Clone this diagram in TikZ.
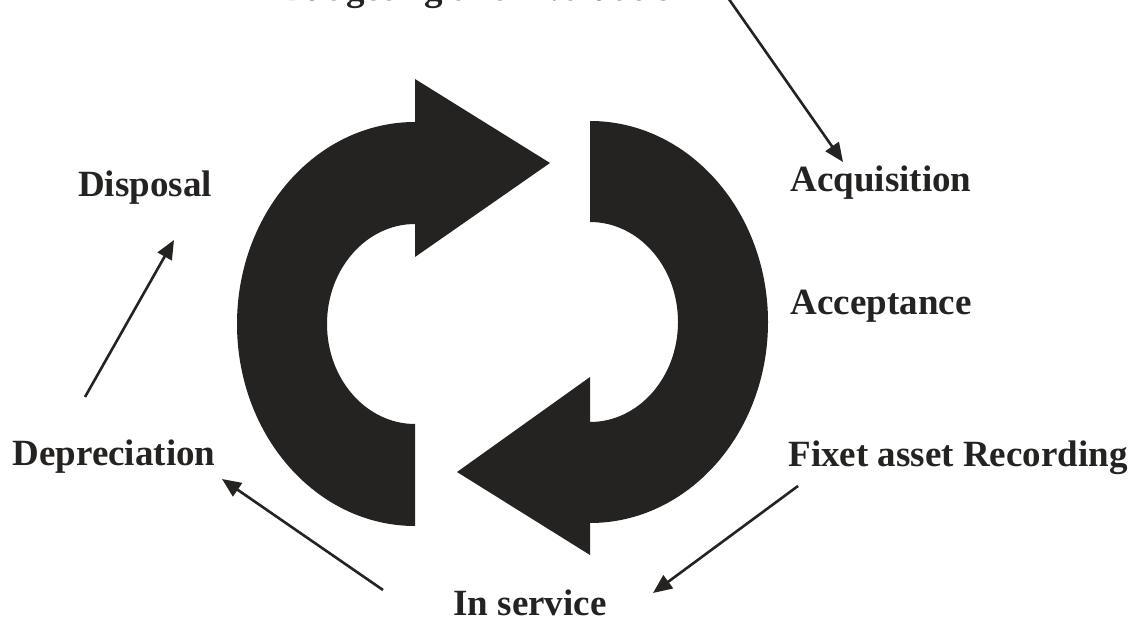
\documentclass[tikz,border=0pt]{standalone}
\usepackage{fontspec}
\setmainfont{Liberation Serif}
\usetikzlibrary{arrows.meta}
\definecolor{ink}{RGB}{36,35,33}
\tikzset{
      stagelabel/.style={
        anchor=base,
        font=\fontsize{37}{40}\selectfont\bfseries,
        text=ink,
        inner sep=0pt
      },
      cyclearrow/.style={
        fill=ink,
        draw=none
      },
      flow/.style={
        -{Triangle[length=19pt,width=16pt]},
        line width=2.6pt,
        color=ink
      }
    }
\begin{document}
\begin{tikzpicture}[x=1pt,y=1pt]
    \useasboundingbox (0,0) rectangle (1147,621);
    \node[stagelabel] (bud) at (487,620.5) {Budgeting and Evaluation};
    \node[stagelabel] (acq) at (881,429) {Acquisition};
    \node[stagelabel] (acc) at (881,306) {Acceptance};
    \node[stagelabel] (fix) at (958,154) {Fixet asset Recording};
    \node[stagelabel] (srv) at (530,6) {In service};
    \node[stagelabel] (dep) at (114,156) {Depreciation};
    \node[stagelabel] (dis) at (145,424) {Disposal};
    \fill[cyclearrow] (415,397) -- (415,364) -- (550,458) -- (415,542) -- (415,499)
      arc[start angle=90, end angle=270, x radius=178, y radius=202] -- (415,197)
      arc[start angle=270, end angle=90, x radius=88, y radius=100] -- cycle;
    \fill[cyclearrow] (590,500)
      arc[start angle=90, end angle=-90, x radius=178, y radius=201] -- (590,66) -- (457,149) -- (590,244) -- (590,199)
      arc[start angle=-90, end angle=90, x radius=88, y radius=100] -- cycle;
    \coordinate (budout) at (726,626);
    \coordinate (acqin) at (843,459);
    \coordinate (fixout) at (798,135);
    \coordinate (srvin) at (653,28);
    \coordinate (srvout) at (383,31);
    \coordinate (depin) at (222,142);
    \coordinate (depout) at (85,224);
    \coordinate (disin) at (174,381);
    \draw[flow] (budout) -- (acqin);
    \draw[flow] (fixout) -- (srvin);
    \draw[flow] (srvout) -- (depin);
    \draw[flow] (depout) -- (disin);
    \end{tikzpicture}
\end{document}
